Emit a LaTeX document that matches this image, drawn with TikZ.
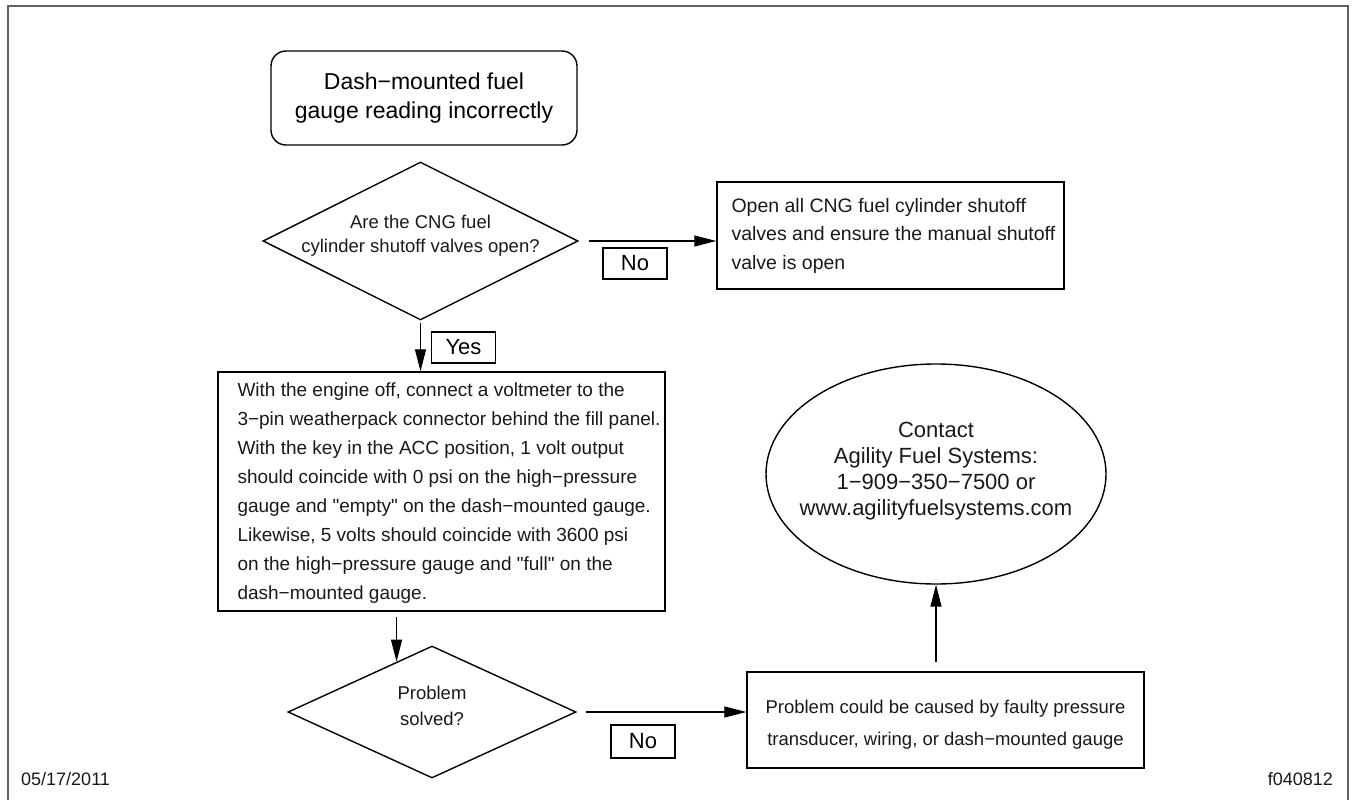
\documentclass[tikz,border=0pt]{standalone}
\usepackage{fontspec}
\setmainfont{Liberation Sans}
\usetikzlibrary{shapes.geometric,arrows.meta,calc}

\begin{document}
\begin{tikzpicture}[x=1pt,y=-1pt,
  frame/.style={draw=black!62, line width=2.5pt},
  outline/.style={draw=black, line width=1.4pt, inner sep=0pt},
  txt/.style={inner sep=0pt, text=black!90},
  arr/.style={draw=black, line width=1.2pt, -{Triangle[length=22pt,width=11pt]}},
  tag/.style={draw=black, line width=1.4pt, inner sep=0pt, minimum width=64pt,
    minimum height=31pt, font=\fontsize{22}{22}\selectfont}
]
\useasboundingbox (0,0) rectangle (1352,800);

% page frame, open at the bottom
\draw[frame] (8,800) -- (8,6) -- (1348,6) -- (1348,800);

% start
\node[outline, rounded corners=15pt, minimum width=306pt, minimum height=94pt,
  align=center, font=\fontsize{23}{29}\selectfont] (start) at (424,98)
  {Dash−mounted fuel\\gauge reading incorrectly};

% first question
\node[outline, diamond, minimum width=315pt, minimum height=158pt] (q1) at (420.5,241) {};
\node[txt, align=center, font=\fontsize{18.5}{24}\selectfont] (q1t) at (420.5,236)
  {Are the CNG fuel\\cylinder shutoff valves open?};

% open the valves
\node[outline, minimum width=347pt, minimum height=107pt] (b2) at (890.5,235.5) {};
\node[txt, anchor=north west, align=left, font=\fontsize{19.5}{28.5}\selectfont] (b2t)
  at ($(b2.north west)+(15,16.5)$)
  {Open all CNG fuel cylinder shutoff\\valves and ensure the manual shutoff\\valve is open};

% voltmeter check
\node[outline, minimum width=447pt, minimum height=239pt] (b3) at (441.5,491.5) {};
\node[txt, anchor=north west, align=left, font=\fontsize{19}{29}\selectfont] (b3t)
  at ($(b3.north west)+(20,11)$)
  {With the engine off, connect a voltmeter to the\\
   3−pin weatherpack connector behind the fill panel.\\
   With the key in the ACC position, 1 volt output\\
   should coincide with 0 psi on the high−pressure\\
   gauge and \textquotedbl empty\textquotedbl{} on the dash−mounted gauge.\\
   Likewise, 5 volts should coincide with 3600 psi\\
   on the high−pressure gauge and \textquotedbl full\textquotedbl{} on the\\
   dash−mounted gauge.};

% second question
\node[outline, diamond, minimum width=288pt, minimum height=132pt] (q2) at (432,712) {};
\node[txt, align=center, font=\fontsize{18.5}{26}\selectfont] (q2t) at (432,706)
  {Problem\\solved?};

% possible causes
\node[outline, minimum width=397pt, minimum height=96pt] (b4) at (945.5,720) {};
\node[txt, align=center, font=\fontsize{18.5}{32}\selectfont] (b4t) at (945.5,725)
  {Problem could be caused by faulty pressure\\transducer, wiring, or dash−mounted gauge};

% contact
\node[outline, ellipse, minimum width=340pt, minimum height=220pt] (contact) at (936,474) {};
\node[txt, align=center, font=\fontsize{22}{26}\selectfont] (contactt) at (936,471)
  {Contact\\Agility Fuel Systems:\\1−909−350−7500 or\\www.agilityfuelsystems.com};

% connectors
\draw[arr, shorten <=10pt] (q1.east) -- (b2.west |- q1.east);
\node[tag] (no1) at (635,263.5) {No};

\draw[arr, shorten <=2pt] (q1.south) -- (q1.south |- b3.north);
\node[tag] (yes) at (463.5,347.5) {Yes};

\path (q2.north) -- (q2.west) coordinate[pos=0.245] (q2in);
\draw[arr, shorten <=5pt] (b3.south -| q2in) -- (q2in);

\draw[arr, shorten <=9pt] (q2.east) -- (b4.west |- q2.east);
\node[tag, minimum height=33pt] (no2) at (643,741.5) {No};

\draw[arr, shorten <=9pt] (b4.north -| contact.south) -- (contact.south);

% footer
\node[txt, anchor=base west, font=\fontsize{18}{18}\selectfont] (date) at (21,785) {05/17/2011};
\node[txt, anchor=base east, font=\fontsize{18}{18}\selectfont] (figid) at (1333,785) {f040812};
\end{tikzpicture}
\end{document}
